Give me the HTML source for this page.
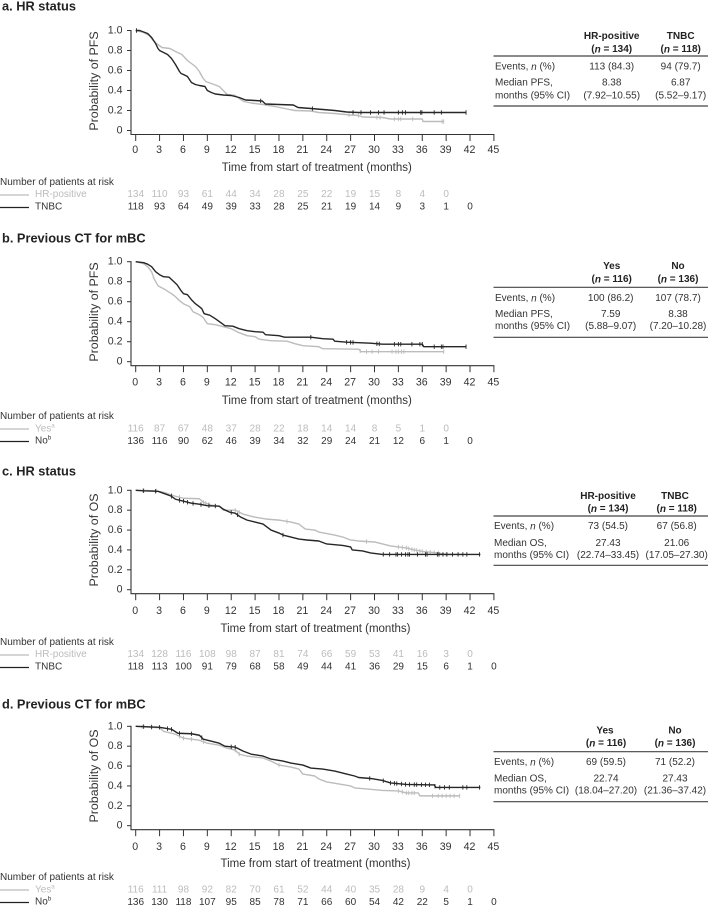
<!DOCTYPE html>
<html lang="en">
<head>
<meta charset="utf-8">
<title>Kaplan-Meier survival curves by subgroup</title>
<style>
html,body{margin:0;padding:0;background:#fff;}
body{width:708px;height:907px;overflow:hidden;}
svg{display:block;font-family:"Liberation Sans",Arial,sans-serif;filter:blur(0.3px);}
svg text{dominant-baseline:central;fill:#333;}
.ttl{font-size:12.8px;font-weight:bold;fill:#222;}
.ax{font-size:11.5px;}
.ytl{font-size:12.4px;}
.tick{font-size:10.6px;text-anchor:middle;}
.ytick{font-size:10.6px;text-anchor:end;}
.tb{font-size:10px;}
.tc{font-size:10px;text-anchor:middle;}
.th{font-size:10px;font-weight:bold;text-anchor:middle;fill:#222;}
.rk{font-size:10px;}
.rkn{font-size:10px;text-anchor:middle;}
.g{fill:#bcbcbc !important;}
.sup{font-size:6px;}
line.rule{stroke:#444;stroke-width:1.2;}
</style>
</head>
<body>
<svg id="figure" xmlns="http://www.w3.org/2000/svg" width="708" height="907" viewBox="0 0 708 907">
  <text class="ttl" x="2" y="6">a. HR status</text>
  <text class="ttl" x="2" y="238">b. Previous CT for mBC</text>
  <text class="ttl" x="2" y="471">c. HR status</text>
  <text class="ttl" x="2" y="704">d. Previous CT for mBC</text>

  <text class="ytl" transform="translate(94 81) rotate(-90)" text-anchor="middle">Probability of PFS</text>
  <text class="ytl" transform="translate(94 312) rotate(-90)" text-anchor="middle">Probability of PFS</text>
  <text class="ytl" transform="translate(94 540) rotate(-90)" text-anchor="middle">Probability of OS</text>
  <text class="ytl" transform="translate(94 776) rotate(-90)" text-anchor="middle">Probability of OS</text>

  <text class="ax" x="316.8" y="168" text-anchor="middle">Time from start of treatment (months)</text>
  <text class="ax" x="316.8" y="401" text-anchor="middle">Time from start of treatment (months)</text>
  <text class="ax" x="315.5" y="629" text-anchor="middle">Time from start of treatment (months)</text>
  <text class="ax" x="315.5" y="864" text-anchor="middle">Time from start of treatment (months)</text>

  <text class="rk" x="0" y="182.5">Number of patients at risk</text>
  <text class="rk" x="0" y="416.7">Number of patients at risk</text>
  <text class="rk" x="0" y="642.7">Number of patients at risk</text>
  <text class="rk" x="0" y="877.7">Number of patients at risk</text>

  <g>
    <line x1="0" x2="29" y1="195" y2="195" stroke="#bcbcbc" stroke-width="1.2"/>
    <text class="rk g" x="35" y="194.7">HR-positive</text>
    <line x1="0" x2="29" y1="207.5" y2="207.5" stroke="#222" stroke-width="1.2"/>
    <text class="rk" x="35" y="207">TNBC</text>
  </g>
  <g>
    <line x1="0" x2="29" y1="429" y2="429" stroke="#bcbcbc" stroke-width="1.2"/>
    <text class="rk g" x="35" y="429">Yes<tspan class="sup g" dy="-2.5">a</tspan></text>
    <line x1="0" x2="29" y1="441.5" y2="441.5" stroke="#222" stroke-width="1.2"/>
    <text class="rk" x="35" y="441">No<tspan class="sup" dy="-2.5">b</tspan></text>
  </g>
  <g>
    <line x1="0" x2="29" y1="655" y2="655" stroke="#bcbcbc" stroke-width="1.2"/>
    <text class="rk g" x="35" y="654.7">HR-positive</text>
    <line x1="0" x2="29" y1="667.5" y2="667.5" stroke="#222" stroke-width="1.2"/>
    <text class="rk" x="35" y="667">TNBC</text>
  </g>
  <g>
    <line x1="0" x2="29" y1="890" y2="890" stroke="#bcbcbc" stroke-width="1.2"/>
    <text class="rk g" x="35" y="890">Yes<tspan class="sup g" dy="-2.5">a</tspan></text>
    <line x1="0" x2="29" y1="902.5" y2="902.5" stroke="#222" stroke-width="1.2"/>
    <text class="rk" x="35" y="902">No<tspan class="sup" dy="-2.5">b</tspan></text>
  </g>

  <g>
    <text class="th" x="611.7" y="36.7">HR-positive</text>
    <text class="th" x="680.7" y="36.7">TNBC</text>
    <text class="th" x="611.7" y="49.3">(<tspan font-style="italic">n</tspan> = 134)</text>
    <text class="th" x="680.7" y="49.3">(<tspan font-style="italic">n</tspan> = 118)</text>
    <line class="rule" x1="493.5" x2="708" y1="56" y2="56"/>
    <text class="tb" x="495" y="67">Events, <tspan font-style="italic">n</tspan> (%)</text>
    <text class="tc" x="611.7" y="67">113 (84.3)</text>
    <text class="tc" x="680.7" y="67">94 (79.7)</text>
    <text class="tb" x="495" y="83">Median PFS,</text>
    <text class="tc" x="611.7" y="83">8.38</text>
    <text class="tc" x="680.7" y="83">6.87</text>
    <text class="tb" x="495" y="96">months (95% CI)</text>
    <text class="tc" x="611.7" y="96">(7.92–10.55)</text>
    <text class="tc" x="680.7" y="96">(5.52–9.17)</text>
    <line class="rule" x1="493.5" x2="708" y1="106" y2="106"/>
  </g>
  <g>
    <text class="th" x="611.7" y="266.7">Yes</text>
    <text class="th" x="678" y="266.7">No</text>
    <text class="th" x="611.7" y="279.3">(<tspan font-style="italic">n</tspan> = 116)</text>
    <text class="th" x="678" y="279.3">(<tspan font-style="italic">n</tspan> = 136)</text>
    <line class="rule" x1="493.5" x2="708" y1="287.3" y2="287.3"/>
    <text class="tb" x="495" y="298.3">Events, <tspan font-style="italic">n</tspan> (%)</text>
    <text class="tc" x="610.7" y="298.3">100 (86.2)</text>
    <text class="tc" x="678" y="298.3">107 (78.7)</text>
    <text class="tb" x="495" y="314.3">Median PFS,</text>
    <text class="tc" x="610.7" y="314.3">7.59</text>
    <text class="tc" x="678" y="314.3">8.38</text>
    <text class="tb" x="495" y="326.7">months (95% CI)</text>
    <text class="tc" x="610.7" y="326.7">(5.88–9.07)</text>
    <text class="tc" x="678" y="326.7">(7.20–10.28)</text>
    <line class="rule" x1="493.5" x2="708" y1="337.3" y2="337.3"/>
  </g>
  <g>
    <text class="th" x="608" y="496.7">HR-positive</text>
    <text class="th" x="675" y="496.7">TNBC</text>
    <text class="th" x="608" y="509">(<tspan font-style="italic">n</tspan> = 134)</text>
    <text class="th" x="676.7" y="509">(<tspan font-style="italic">n</tspan> = 118)</text>
    <line class="rule" x1="493.5" x2="708" y1="516" y2="516"/>
    <text class="tb" x="494" y="526.7">Events, <tspan font-style="italic">n</tspan> (%)</text>
    <text class="tc" x="608" y="526.7">73 (54.5)</text>
    <text class="tc" x="676.7" y="526.7">67 (56.8)</text>
    <text class="tb" x="494" y="543.3">Median OS,</text>
    <text class="tc" x="608" y="543.3">27.43</text>
    <text class="tc" x="676.7" y="543.3">21.06</text>
    <text class="tb" x="494" y="555.3">months (95% CI)</text>
    <text class="tc" x="608" y="555.3">(22.74–33.45)</text>
    <text class="tc" x="676.7" y="555.3">(17.05–27.30)</text>
    <line class="rule" x1="493.5" x2="708" y1="565.3" y2="565.3"/>
  </g>
  <g>
    <text class="th" x="605" y="731">Yes</text>
    <text class="th" x="675" y="731">No</text>
    <text class="th" x="606" y="743.3">(<tspan font-style="italic">n</tspan> = 116)</text>
    <text class="th" x="675" y="743.3">(<tspan font-style="italic">n</tspan> = 136)</text>
    <line class="rule" x1="493.5" x2="708" y1="751.7" y2="751.7"/>
    <text class="tb" x="494" y="762.3">Events, <tspan font-style="italic">n</tspan> (%)</text>
    <text class="tc" x="606" y="762.3">69 (59.5)</text>
    <text class="tc" x="675" y="762.3">71 (52.2)</text>
    <text class="tb" x="494" y="779">Median OS,</text>
    <text class="tc" x="606" y="779">22.74</text>
    <text class="tc" x="675" y="779">27.43</text>
    <text class="tb" x="494" y="791">months (95% CI)</text>
    <text class="tc" x="606" y="791">(18.04–27.20)</text>
    <text class="tc" x="675" y="791">(21.36–37.42)</text>
    <line class="rule" x1="493.5" x2="708" y1="801.7" y2="801.7"/>
  </g>
</svg>
<script>
// Shared axis values
const xTickValues = [0,3,6,9,12,15,18,21,24,27,30,33,36,39,42,45];
const yTickValues = [1,0.8,0.6,0.4,0.2,0];
const yTickLabels = ["1.0","0.8","0.6","0.4","0.2","0"];

// Panel a: PFS by HR status
const aGrayMonths = [0,1,1.7,2.2,2.6,3.3,4.3,5,5.8,6.5,7,7.5,8,8.4,8.8,9.5,10.5,11,11.5,12.5,13,13.6,14.5,16,17.5,19,20,22,23,25,27,28,28.5,31,32,36,36.1,38.7];
const aGraySurvival = [1,0.98,0.95,0.9,0.87,0.83,0.82,0.79,0.76,0.7,0.67,0.64,0.59,0.53,0.49,0.47,0.44,0.4,0.36,0.35,0.32,0.29,0.275,0.26,0.24,0.215,0.2,0.195,0.18,0.17,0.155,0.15,0.135,0.13,0.115,0.115,0.09,0.09];
const aGrayCensored = [26.8,28,30.3,30.7,32.5,33,33.3,34.8,38.5,38.7];
const aGrayAtRisk = [134,110,93,61,44,34,28,25,22,19,15,8,4,0];
const aBlackMonths = [0,0.5,1,1.5,2,2.5,2.8,3,3.5,4,4.5,5,5.5,5.7,6,6.5,7,7.5,8,8.7,9,9.5,10,11,12,13,13.8,15,15.9,16.3,18,19.8,20.4,22,23.5,25,26.5,28,41.5];
const aBlackSurvival = [1,1,0.985,0.97,0.93,0.87,0.82,0.8,0.78,0.76,0.72,0.66,0.59,0.57,0.56,0.54,0.48,0.46,0.45,0.44,0.4,0.38,0.365,0.355,0.35,0.33,0.305,0.3,0.295,0.265,0.26,0.255,0.23,0.22,0.21,0.2,0.185,0.18,0.18];
const aBlackCensored = [0.1,15.7,22.2,27.3,28.3,29.5,30.5,31.2,33,33.5,33.9,35.8,35.95,37.5,38.4,41.5];
const aBlackAtRisk = [118,93,64,49,39,33,28,25,21,19,14,9,3,1,0];

// Panel b: PFS by previous CT
const bGrayMonths = [0,1,1.5,2,2.3,2.8,3.5,4.5,5,5.5,6,6.8,7.2,8,8.5,9,10,11,12,13,14,15,15.5,17,19,20,21,23,23.5,28,28.3,38.7];
const bGraySurvival = [1,0.98,0.95,0.9,0.83,0.76,0.73,0.68,0.65,0.61,0.58,0.55,0.5,0.47,0.44,0.38,0.37,0.35,0.33,0.29,0.26,0.25,0.225,0.21,0.205,0.18,0.16,0.15,0.13,0.125,0.1,0.1];
const bGrayCensored = [28.2,29,29.7,30.5,32.2,32.7,33,33.4,33.7,38.7];
const bGrayAtRisk = [116,87,67,48,37,28,22,18,14,14,8,5,1,0];
const bBlackMonths = [0,1,1.5,2,2.5,3,3.5,4.2,4.8,5.2,5.7,6,6.5,7,7.5,8,8.3,8.6,9.3,10,10.7,11.2,12.2,13,14,15,16,16.3,18,18.7,22,23.5,24.8,25,26.5,28,29.5,31,36,36.2,41.5];
const bBlackSurvival = [1,0.99,0.975,0.95,0.9,0.87,0.85,0.845,0.8,0.77,0.71,0.68,0.67,0.62,0.58,0.55,0.53,0.48,0.465,0.43,0.39,0.36,0.355,0.33,0.31,0.3,0.295,0.27,0.26,0.245,0.245,0.23,0.225,0.205,0.195,0.19,0.185,0.175,0.175,0.15,0.15];
const bBlackCensored = [22,26.5,27,27.3,30.3,30.6,32.5,33,33.3,34.7,35.7,36,37.5,38.4,38.6,41.5];
const bBlackAtRisk = [136,116,90,62,46,39,34,32,29,24,21,12,6,1,0];

// Panel c: OS by HR status
const cGrayMonths = [0,2.5,3.5,5,6,8,8.5,9.5,10.5,11,12.5,13.5,15,16.5,18,19.5,20.5,21.3,22.5,23,25,26,27,28,30,31,32,34,35,36,38,39,41];
const cGraySurvival = [1,0.995,0.98,0.94,0.92,0.915,0.88,0.85,0.84,0.8,0.8,0.76,0.73,0.71,0.7,0.68,0.66,0.61,0.6,0.58,0.55,0.53,0.5,0.49,0.48,0.46,0.44,0.42,0.4,0.385,0.37,0.355,0.355];
const cGrayCensored = [0.9,2.6,4.5,5.5,8.5,8.8,9.2,12.5,13,19,29,33,33.5,34,34.3,34.7,35,35.3,35.7,36,36.5,37,37.5,38,39];
const cGrayAtRisk = [134,128,116,108,98,87,81,74,66,59,53,41,16,3,0];
const cBlackMonths = [0,1,2.8,3.5,4.5,5,6,7,8,9,10.5,11,11.8,12.5,13.2,14,15,16,16.5,17,18,18.5,19.5,20.5,21.5,23,24,26,27,27.2,28.5,29.5,31,43.3];
const cBlackSurvival = [1,0.995,0.99,0.97,0.94,0.91,0.89,0.87,0.86,0.845,0.84,0.81,0.78,0.77,0.73,0.7,0.68,0.66,0.63,0.6,0.57,0.55,0.53,0.51,0.5,0.49,0.46,0.445,0.43,0.4,0.39,0.37,0.355,0.355];
const cBlackCensored = [1,2.5,4.5,5.5,6,6.5,7.2,8.2,9.2,10,12,12.8,18.5,31.1,31.9,32.7,32.9,33.4,33.9,34.2,34.4,35.4,36.4,36.6,37.9,38.1,38.6,39.1,39.8,40.5,41.1,41.6,43.2];
const cBlackAtRisk = [118,113,100,91,79,68,58,49,44,41,36,29,15,6,1,0];

// Panel d: OS by previous CT
const dGrayMonths = [0,3,3.5,5,6,8,9,10.5,11.5,12.5,13,14,16,17,18,19.5,20.5,21,22.5,23,24,25.5,27,27.5,29,31,33,34,35.5,35.7,40.7];
const dGraySurvival = [1,0.985,0.95,0.92,0.88,0.86,0.83,0.81,0.78,0.76,0.72,0.7,0.68,0.65,0.61,0.59,0.57,0.52,0.5,0.47,0.44,0.42,0.4,0.38,0.37,0.355,0.35,0.33,0.33,0.3,0.3];
const dGrayCensored = [0.8,2,5.5,6,7,8.5,12.5,13,18,33,33.5,34,34.3,34.7,35,37.3,38,38.5,39,39.5,40,40.7];
const dGrayAtRisk = [116,111,98,92,82,70,61,52,44,40,35,28,9,4,0];
const dBlackMonths = [0,3,4.5,5.3,7,8,8.5,9.5,10.5,11.2,12.5,13.5,14.5,16,17,18.5,19.5,21,22,23.5,25,26.5,27.5,28,29.5,31,32,34,37.5,37.7,43.3];
const dBlackSurvival = [1,0.99,0.97,0.93,0.925,0.91,0.87,0.85,0.83,0.8,0.79,0.75,0.72,0.7,0.67,0.65,0.63,0.61,0.58,0.57,0.55,0.52,0.5,0.485,0.475,0.455,0.43,0.415,0.41,0.385,0.385];
const dBlackCensored = [1,2,3,4,4.5,5.5,7,8.3,12,12.5,29.4,31.1,32,32.5,32.8,33.4,33.9,34.4,35,35.3,35.9,36.4,36.9,37.6,38.2,38.8,39.4,41.1,41.6,43.2];
const dBlackAtRisk = [136,130,118,107,95,85,78,71,66,60,54,42,22,5,1,0];

const SVGNS = "http://www.w3.org/2000/svg";
const root = document.getElementById("figure");
const GRAY = "#bcbcbc";
const BLACK = "#262626";

function make(tag, attrs, parent, txt) {
  const el = document.createElementNS(SVGNS, tag);
  for (const k in attrs) el.setAttribute(k, attrs[k]);
  if (txt !== undefined) el.textContent = txt;
  parent.appendChild(el);
  return el;
}

function scaleX(t) { return 135.7 + t * 7.96; }

function curveValue(months, survival, t) {
  for (let i = 1; i < months.length; i++) {
    if (t <= months[i]) {
      const f = (t - months[i - 1]) / (months[i] - months[i - 1]);
      return survival[i - 1] + (survival[i] - survival[i - 1]) * f;
    }
  }
  return survival[survival.length - 1];
}

function drawCurve(g, months, survival, censored, color, width, name, scaleY) {
  let d = "";
  for (let i = 0; i < months.length; i++) {
    d += (i ? "L" : "M") + scaleX(months[i]).toFixed(2) + " " + scaleY(survival[i]).toFixed(2);
  }
  const path = make("path", {d: d, fill: "none", stroke: color, "stroke-width": width, "stroke-linejoin": "round"}, g);
  
  
  censored.forEach(function (t) {
    const y = scaleY(curveValue(months, survival, t));
    const x = scaleX(t);
    const m = make("line", {x1: x, x2: x, y1: y - 2.2, y2: y + 2.2, stroke: color, "stroke-width": 0.9}, g);
    
    
  });
}

function drawRisk(g, values, rowY, isGray, name) {
  values.forEach(function (n, i) {
    const t = make("text", {class: "rkn" + (isGray ? " g" : ""), x: scaleX(xTickValues[i]), y: rowY}, g, n);
    
    
  });
}

function drawPanel(key, yTop, yBottom, axisY, tickLabelY, rowGray, rowBlack, series) {
  const g = make("g", {}, root);
  
  
  const scaleY = function (v) { return yBottom + (yTop - yBottom) * v; };

  const yAxis = make("line", {x1: 131, x2: 131, y1: yTop - 0.5, y2: axisY, stroke: "#333", "stroke-width": 1.1}, g);
  
  
  const xAxis = make("line", {x1: 130.5, x2: scaleX(45) + 0.5, y1: axisY, y2: axisY, stroke: "#333", "stroke-width": 1.1}, g);
  
  

  yTickValues.forEach(function (v, i) {
    const y = scaleY(v);
    const tk = make("line", {x1: 127, x2: 131, y1: y, y2: y, stroke: "#333", "stroke-width": 1}, g);
    
    
    const lb = make("text", {class: "ytick", x: 122.5, y: y}, g, yTickLabels[i]);
    
    
  });
  xTickValues.forEach(function (v) {
    const x = scaleX(v);
    const tk = make("line", {x1: x, x2: x, y1: axisY, y2: axisY + 6.5, stroke: "#333", "stroke-width": 1}, g);
    
    
    const lb = make("text", {class: "tick", x: x - 0.5, y: tickLabelY}, g, v);
    
    
  });

  drawCurve(g, series.gm, series.gs, series.gc, GRAY, 1.4, 'panel-' + key + '-gray', scaleY);
  drawCurve(g, series.bm, series.bs, series.bc, BLACK, 1.4, 'panel-' + key + '-black', scaleY);
  drawRisk(g, series.gr, rowGray, true, 'panel-' + key + '-gray');
  drawRisk(g, series.br, rowBlack, false, 'panel-' + key + '-black');
}

drawPanel("a", 30.5, 130.5, 134.5, 150, 194.7, 207,
  {gm: aGrayMonths, gs: aGraySurvival, gc: aGrayCensored, gr: aGrayAtRisk,
   bm: aBlackMonths, bs: aBlackSurvival, bc: aBlackCensored, br: aBlackAtRisk});
drawPanel("b", 261.7, 361.7, 365.7, 382.7, 429, 441.3,
  {gm: bGrayMonths, gs: bGraySurvival, gc: bGrayCensored, gr: bGrayAtRisk,
   bm: bBlackMonths, bs: bBlackSurvival, bc: bBlackCensored, br: bBlackAtRisk});
drawPanel("c", 490.3, 589.7, 593.7, 611, 654.7, 667,
  {gm: cGrayMonths, gs: cGraySurvival, gc: cGrayCensored, gr: cGrayAtRisk,
   bm: cBlackMonths, bs: cBlackSurvival, bc: cBlackCensored, br: cBlackAtRisk});
drawPanel("d", 726.3, 825.7, 829.7, 847, 890, 902.3,
  {gm: dGrayMonths, gs: dGraySurvival, gc: dGrayCensored, gr: dGrayAtRisk,
   bm: dBlackMonths, bs: dBlackSurvival, bc: dBlackCensored, br: dBlackAtRisk});
</script>
</body>
</html>
